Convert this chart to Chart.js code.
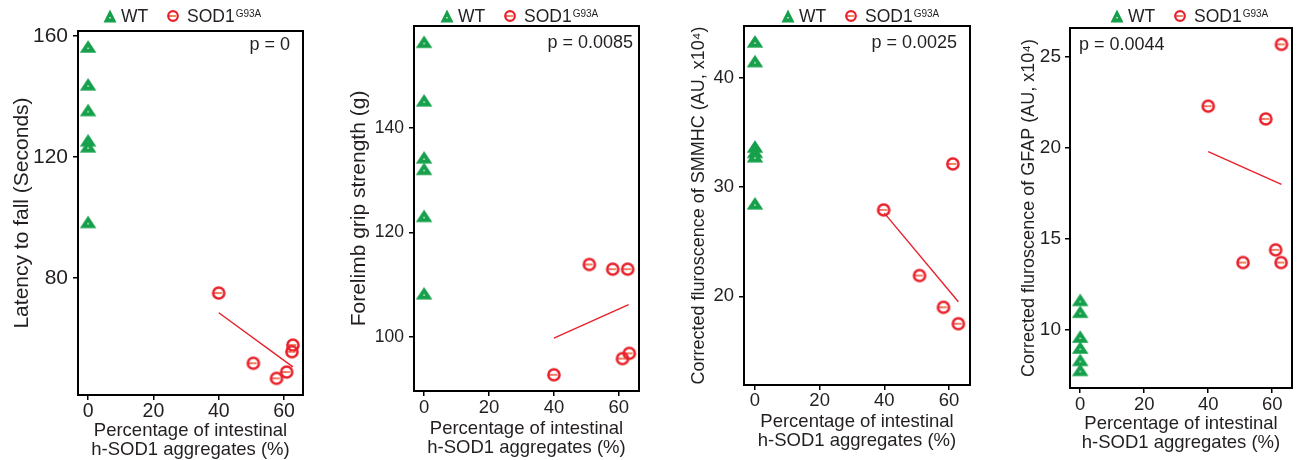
<!DOCTYPE html>
<html>
<head>
<meta charset="utf-8">
<script src="https://cdn.jsdelivr.net/npm/chart.js@4.4.1/dist/chart.umd.min.js"></script>
<style>
  body { margin: 0; background: #fff; }
  #wrap { position: relative; width: 1300px; height: 460px; }
  #wrap canvas { position: absolute; top: 0; }
</style>
</head>
<body>
<div id="wrap">
  <canvas id="c1" width="320" height="460" style="left:0px"></canvas>
  <canvas id="c2" width="335" height="460" style="left:320px"></canvas>
  <canvas id="c3" width="335" height="460" style="left:655px"></canvas>
  <canvas id="c4" width="310" height="460" style="left:990px"></canvas>
</div>
<script>
const xTicks = [0, 20, 40, 60];

// latency to fall
const latWtX = [0, 0, 0, 0, 0, 0];
const latWtY = [156.5, 144, 135.5, 125.5, 123.5, 98.5];
const latSodX = [40, 50.6, 57.7, 60.8, 62.7, 62.4];
const latSodY = [75, 51.8, 46.8, 48.9, 57.8, 55.6];
const latFitX = [40, 62.7];
const latFitY = [68.5, 50.6];
const latTicks = [80, 120, 160];

// grip strength
const gripWtX = [0, 0, 0, 0, 0, 0];
const gripWtY = [156.5, 145.3, 134.4, 132.2, 123.2, 108.4];
const gripSodX = [40, 50.9, 58.1, 62.7, 61.1, 63.2];
const gripSodY = [92.8, 113.9, 113.0, 113.0, 95.9, 96.9];
const gripFitX = [40, 63];
const gripFitY = [99.8, 106.2];
const gripTicks = [100, 120, 140];

// SMMHC
const smWtX = [0, 0, 0, 0, 0, 0];
const smWtY = [43.3, 41.5, 33.7, 33.2, 32.8, 28.5];
const smSodX = [39.8, 50.9, 58.3, 61.2, 62.9];
const smSodY = [27.9, 21.9, 19.0, 32.1, 17.5];
const smFitX = [40, 62.9];
const smFitY = [27.6, 19.5];
const smTicks = [20, 30, 40];

// GFAP
const gfWtX = [0, 0, 0, 0, 0, 0];
const gfWtY = [11.65, 11.0, 9.63, 9.03, 8.35, 7.8];
const gfSodX = [40, 50.9, 58.0, 61.1, 62.9, 62.8];
const gfSodY = [22.3, 13.7, 21.6, 14.4, 25.7, 13.7];
const gfFitX = [40, 62.9];
const gfFitY = [19.8, 18.0];
const gfTicks = [10, 15, 20, 25];

const pLabels = ['p = 0', 'p = 0.0085', 'p = 0.0025', 'p = 0.0044'];
const yTitles = ['Latency to fall (Seconds)', 'Forelimb grip strength (g)',
  'Corrected fluroscence of SMMHC (AU, x10\u2074)', 'Corrected fluroscence of GFAP (AU, x10\u2074)'];
const xTitle = ['Percentage of intestinal', 'h-SOD1 aggregates (%)'];

const GREEN = '#17a04c';
const RED = '#e8202a';
const INK = '#231f20';
const FONT = "'Liberation Sans', Arial, sans-serif";
Chart.defaults.font.family = FONT;
Chart.defaults.color = INK;

function drawTri(c, cx, cy, w, h) {
  c.beginPath();
  c.moveTo(cx - w / 2, cy + h / 2);
  c.lineTo(cx + w / 2, cy + h / 2);
  c.lineTo(cx, cy - h / 2);
  c.closePath();
  c.fillStyle = GREEN;
  c.fill();
  c.fillStyle = '#e8f5ec';
  c.fillRect(cx - 1, cy + h * 0.1, 2, 1);
}

function drawCirc(c, cx, cy, r, lw) {
  c.beginPath();
  c.arc(cx, cy, r, 0, Math.PI * 2);
  c.strokeStyle = RED;
  c.lineWidth = lw;
  c.stroke();
  c.beginPath();
  c.moveTo(cx - r, cy);
  c.lineTo(cx + r * 0.6, cy);
  c.lineWidth = 1.3;
  c.stroke();
  c.fillStyle = '#f6a623';
  c.fillRect(cx - 1, cy - 0.5, 3, 1);
}

const triImg = document.createElement('canvas');
triImg.width = 18; triImg.height = 15;
drawTri(triImg.getContext('2d'), 9, 7.5, 16.5, 12.5);

const circImg = document.createElement('canvas');
circImg.width = 16; circImg.height = 16;
drawCirc(circImg.getContext('2d'), 8, 8, 5.6, 2.5);

const toPts = (xs, ys) => xs.map((x, i) => ({ x: x, y: ys[i] }));

function makePanel(p) {
  const el = document.getElementById(p.id);
  const W = el.width, H = el.height;
  const a = p.area;

  const deco = {
    id: 'deco' + p.id,
    beforeDatasetsDraw(chart) {
      const ca = chart.chartArea;
      const c = chart.ctx;
      c.save();
      c.strokeStyle = '#000';
      c.lineWidth = 2;
      c.strokeRect(ca.left, ca.top, ca.right - ca.left, ca.bottom - ca.top);
      c.restore();
    },
    afterDraw(chart) {
      const ca = chart.chartArea;
      const c = chart.ctx;
      c.save();
      // legend
      const lx = ca.left + p.legendX;
      const ly = 16;
      drawTri(c, lx, ly, 13, 13);
      c.fillStyle = INK;
      c.font = '17.5px ' + FONT;
      c.textBaseline = 'middle';
      c.textAlign = 'left';
      c.fillText('WT', lx + 11, ly + 1);
      const cx = lx + 63;
      drawCirc(c, cx, ly, 4.8, 2.2);
      c.fillStyle = INK;
      c.fillText('SOD1', cx + 14, ly + 1);
      const w = c.measureText('SOD1').width;
      c.font = '10px ' + FONT;
      c.textBaseline = 'top';
      c.fillText('G93A', cx + 14 + w + 1, 9);
      // p value
      c.font = '18px ' + FONT;
      c.textBaseline = 'middle';
      if (p.pAlign === 'right') {
        c.textAlign = 'right';
        c.fillText(p.pText, ca.right - p.pInset, ca.top + p.pDy);
      } else {
        c.textAlign = 'left';
        c.fillText(p.pText, ca.left + p.pInset, ca.top + p.pDy);
      }
      c.restore();
    }
  };

  return new Chart(el, {
    type: 'scatter',
    data: {
      datasets: [
        { label: 'WT', data: toPts(p.wtX, p.wtY), pointStyle: triImg, pointRadius: 7 },
        { label: 'SOD1', data: toPts(p.sodX, p.sodY), pointStyle: circImg, pointRadius: 7 },
        { label: 'fit', data: toPts(p.fitX, p.fitY), showLine: true, borderColor: RED,
          borderWidth: 1.4, pointRadius: 0, fill: false }
      ]
    },
    options: {
      responsive: false,
      animation: false,
      events: [],
      layout: { padding: { left: 0, top: a.top, right: W - a.right, bottom: 0 } },
      plugins: { legend: { display: false }, tooltip: { enabled: false } },
      scales: {
        x: {
          type: 'linear', min: p.xMin, max: p.xMax,
          afterBuildTicks: s => { s.ticks = xTicks.map(v => ({ value: v })); },
          afterFit: s => { s.height = H - a.bottom; },
          grid: { drawOnChartArea: false, drawTicks: true, tickLength: 5, color: '#000', lineWidth: 1.5 },
          border: { display: false },
          ticks: { font: { size: p.xTickSize }, padding: p.xTickPad, color: INK, maxRotation: 0 },
          title: { display: true, text: xTitle, font: { size: 18.5, lineHeight: 1.0 },
            padding: { top: 0, bottom: p.xTitlePad }, color: INK }
        },
        y: {
          type: 'linear', min: p.yMin, max: p.yMax,
          afterBuildTicks: s => { s.ticks = p.yTicks.map(v => ({ value: v })); },
          afterFit: s => { s.width = a.left; },
          grid: { drawOnChartArea: false, drawTicks: true, tickLength: 5, color: '#000', lineWidth: 1.5 },
          border: { display: false },
          ticks: { font: { size: p.yTickSize }, padding: p.yTickPad, color: INK },
          title: { display: true, text: p.yTitle, font: { size: p.yTitleSize, lineHeight: 1.2 },
            padding: { top: p.yTitlePad, bottom: 0 }, color: INK }
        }
      }
    },
    plugins: [deco]
  });
}

const panels = [
  { id: 'c1', wtX: latWtX, wtY: latWtY, sodX: latSodX, sodY: latSodY, fitX: latFitX, fitY: latFitY,
    yTicks: latTicks, yTitle: yTitles[0], pText: pLabels[0],
    area: { left: 78, right: 303, top: 31, bottom: 395 },
    xMin: -3.1, xMax: 65.8, yMin: 41.3, yMax: 161.6,
    xTickSize: 19.5, xTickPad: 0, xTitlePad: 1, yTickSize: 21, yTickPad: 5, yTitleSize: 21, yTitlePad: 10,
    legendX: 32, pAlign: 'right', pInset: 13, pDy: 14 },
  { id: 'c2', wtX: gripWtX, wtY: gripWtY, sodX: gripSodX, sodY: gripSodY, fitX: gripFitX, fitY: gripFitY,
    yTicks: gripTicks, yTitle: yTitles[1], pText: pLabels[1],
    area: { left: 94, right: 319, top: 26, bottom: 391 },
    xMin: -3.1, xMax: 66.2, yMin: 89.7, yMax: 159.5,
    xTickSize: 18.5, xTickPad: 1, xTitlePad: 3, yTickSize: 17.5, yTickPad: 5, yTitleSize: 21, yTitlePad: 27,
    legendX: 33, pAlign: 'right', pInset: 6, pDy: 17 },
  { id: 'c3', wtX: smWtX, wtY: smWtY, sodX: smSodX, sodY: smSodY, fitX: smFitX, fitY: smFitY,
    yTicks: smTicks, yTitle: yTitles[2], pText: pLabels[2],
    area: { left: 89, right: 315, top: 26, bottom: 385 },
    xMin: -3.4, xMax: 66.5, yMin: 11.9, yMax: 44.7,
    xTickSize: 18.5, xTickPad: 0, xTitlePad: 10, yTickSize: 18.5, yTickPad: 5, yTitleSize: 18, yTitlePad: 33,
    legendX: 44, pAlign: 'right', pInset: 13, pDy: 17 },
  { id: 'c4', wtX: gfWtX, wtY: gfWtY, sodX: gfSodX, sodY: gfSodY, fitX: gfFitX, fitY: gfFitY,
    yTicks: gfTicks, yTitle: yTitles[3], pText: pLabels[3],
    area: { left: 80, right: 306, top: 28, bottom: 388 },
    xMin: -3.2, xMax: 66.2, yMin: 6.8, yMax: 26.6,
    xTickSize: 18.5, xTickPad: 1, xTitlePad: 8, yTickSize: 19, yTickPad: 4, yTitleSize: 18, yTitlePad: 28,
    legendX: 47, pAlign: 'left', pInset: 9, pDy: 17 }
];

panels.forEach(makePanel);
</script>
</body>
</html>
